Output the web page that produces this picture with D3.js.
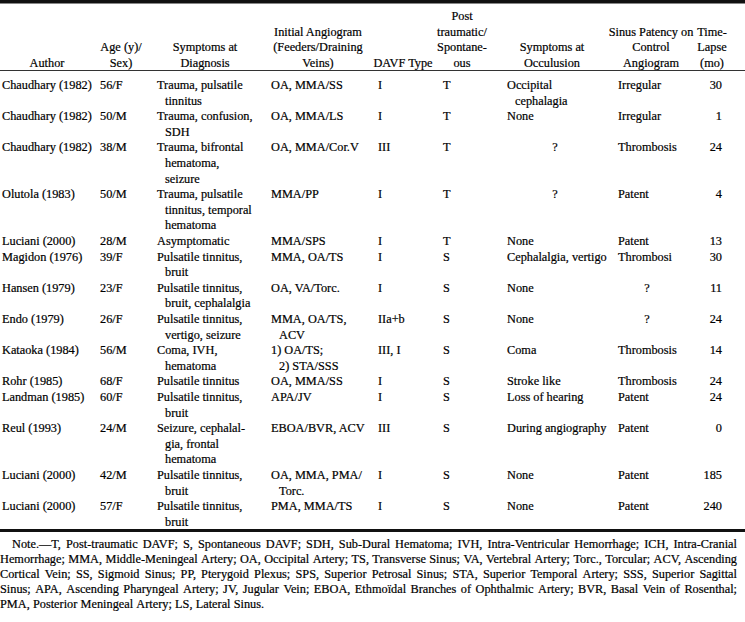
<!DOCTYPE html>
<html>
<head>
<meta charset="utf-8">
<script src="https://cdn.jsdelivr.net/npm/d3@7"></script>
<style>
  body { margin: 0; background: #fff; }
  svg text { font-family: "Liberation Serif", "Times New Roman", serif; font-size: 12.3px; fill: #000; stroke: #000; stroke-width: 0.2px; }
</style>
</head>
<body>
<div id="table"></div>
<script>
// table content, one array per column ("|" = line break as printed)
var authors = ["Chaudhary (1982)", "Chaudhary (1982)", "Chaudhary (1982)", "Olutola (1983)", "Luciani (2000)",
  "Magidon (1976)", "Hansen (1979)", "Endo (1979)", "Kataoka (1984)", "Rohr (1985)", "Landman (1985)",
  "Reul (1993)", "Luciani (2000)", "Luciani (2000)"];
var ageSex = ["56/F", "50/M", "38/M", "50/M", "28/M", "39/F", "23/F", "26/F", "56/M", "68/F", "60/F", "24/M", "42/M", "57/F"];
var symptomsDx = ["Trauma, pulsatile|tinnitus", "Trauma, confusion,|SDH", "Trauma, bifrontal|hematoma,|seizure",
  "Trauma, pulsatile|tinnitus, temporal|hematoma", "Asymptomatic", "Pulsatile tinnitus,|bruit",
  "Pulsatile tinnitus,|bruit, cephalalgia", "Pulsatile tinnitus,|vertigo, seizure", "Coma, IVH,|hematoma",
  "Pulsatile tinnitus", "Pulsatile tinnitus,|bruit", "Seizure, cephalal-|gia, frontal|hematoma",
  "Pulsatile tinnitus,|bruit", "Pulsatile tinnitus,|bruit"];
var angiogram = ["OA, MMA/SS", "OA, MMA/LS", "OA, MMA/Cor.V", "MMA/PP", "MMA/SPS", "MMA, OA/TS", "OA, VA/Torc.",
  "MMA, OA/TS,|ACV", "1) OA/TS;|2) STA/SSS", "OA, MMA/SS", "APA/JV", "EBOA/BVR, ACV", "OA, MMA, PMA/|Torc.", "PMA, MMA/TS"];
var davfType = ["I", "I", "III", "I", "I", "I", "I", "IIa+b", "III, I", "I", "I", "III", "I", "I"];
var origin = ["T", "T", "T", "T", "T", "S", "S", "S", "S", "S", "S", "S", "S", "S"];
var symptomsOcc = ["Occipital|cephalagia", "None", "?", "?", "None", "Cephalalgia, vertigo", "None", "None", "Coma",
  "Stroke like", "Loss of hearing", "During angiography", "None", "None"];
var patency = ["Irregular", "Irregular", "Thrombosis", "Patent", "Patent", "Thrombosi", "?", "?", "Thrombosis",
  "Thrombosis", "Patent", "Patent", "Patent", "Patent"];
var timeLapse = [30, 1, 24, 4, 13, 30, 11, 24, 14, 24, 24, 0, 185, 240];

var headers = [["Author"], ["Age (y)/", "Sex)"], ["Symptoms at", "Diagnosis"],
  ["Initial Angiogram", "(Feeders/Draining", "Veins)"], ["DAVF Type"], ["Post", "traumatic/", "Spontane-", "ous"],
  ["Symptoms at", "Occulusion"], ["Sinus Patency on", "Control", "Angiogram"], ["Time-", "Lapse", "(mo)"]];

var note = "Note.\u2014T, Post-traumatic DAVF; S, Spontaneous DAVF; SDH, Sub-Dural Hematoma; IVH, Intra-Ventricular Hemorrhage; ICH, Intra-Cranial|" +
  "Hemorrhage; MMA, Middle-Meningeal Artery; OA, Occipital Artery; TS, Transverse Sinus; VA, Vertebral Artery; Torc., Torcular; ACV, Ascending|" +
  "Cortical Vein; SS, Sigmoid Sinus; PP, Pterygoid Plexus; SPS, Superior Petrosal Sinus; STA, Superior Temporal Artery; SSS, Superior Sagittal|" +
  "Sinus; APA, Ascending Pharyngeal Artery; JV, Jugular Vein; EBOA, Ethmo\u00efdal Branches of Ophthalmic Artery; BVR, Basal Vein of Rosenthal;|" +
  "PMA, Posterior Meningeal Artery; LS, Lateral Sinus.";

var columns = [authors, ageSex, symptomsDx, angiogram, davfType, origin, symptomsOcc, patency, timeLapse];

// layout
var width = 745, height = 622;
var colLeft = [2, 100, 157, 271, 378, 443, 507, 618, 722];
var colCenter = [47, 121, 205, 318, 403, 462, 552, 651, 712];
var qCenter = [0, 0, 0, 0, 0, 0, 555, 647, 0];   // where the lone "?" sits
var indent = 8;
var lineH = 15.6;

var svg = d3.select("#table").append("svg")
  .attr("width", width).attr("height", height);

svg.append("rect").attr("x", 0).attr("y", 0).attr("width", width).attr("height", 3.5).attr("fill", "#111");
svg.append("rect").attr("x", 0).attr("y", 70).attr("width", width).attr("height", 1).attr("fill", "#333");
svg.append("rect").attr("x", 0).attr("y", 529).attr("width", width).attr("height", 3).attr("fill", "#111");

// header: lines are bottom aligned
headers.forEach(function(h, c) {
  h.forEach(function(line, i) {
    svg.append("text")
      .attr("x", colCenter[c])
      .attr("y", 66.5 - (h.length - 1 - i) * 15.5)
      .attr("text-anchor", "middle")
      .text(line);
  });
});

// rows: start line of each row from the number of lines it needs
var rowLines = authors.map(function(a, r) {
  return d3.max(columns, function(col) { return String(col[r]).split("|").length; });
});
var rowStart = [];
var acc = 0;
rowLines.forEach(function(n) { rowStart.push(acc); acc += n; });

var y = d3.scaleLinear().domain([0, 1]).range([89, 89 + lineH]);

columns.forEach(function(col, c) {
  col.forEach(function(v, r) {
    var lines = String(v).split("|");
    lines.forEach(function(line, i) {
      var t = svg.append("text").attr("y", y(rowStart[r] + i)).text(line);
      if (c == 8) {
        t.attr("x", colLeft[c]).attr("text-anchor", "end");
      } else if (line == "?") {
        t.attr("x", qCenter[c]).attr("text-anchor", "middle");
      } else {
        t.attr("x", colLeft[c] + (i > 0 ? indent : 0));
      }
    });
  });
});

// note, justified between left and right margins
var noteLines = note.split("|");
var right = 737;
noteLines.forEach(function(line, i) {
  var left = i == 0 ? 12 : 0;
  var words = line.split(" ");
  var g = svg.append("text").attr("y", 548 + i * 15);
  var widths = words.map(function(w) {
    var tmp = svg.append("text").text(w);
    var wd = tmp.node().getComputedTextLength();
    tmp.remove();
    return wd;
  });
  var gap = 3.2;
  if (i < noteLines.length - 1) {
    gap = (right - left - d3.sum(widths)) / (words.length - 1);
  }
  var x = left;
  words.forEach(function(w, k) {
    g.append("tspan").attr("x", x).text(w);
    x += widths[k] + gap;
  });
});
</script>
</body>
</html>
